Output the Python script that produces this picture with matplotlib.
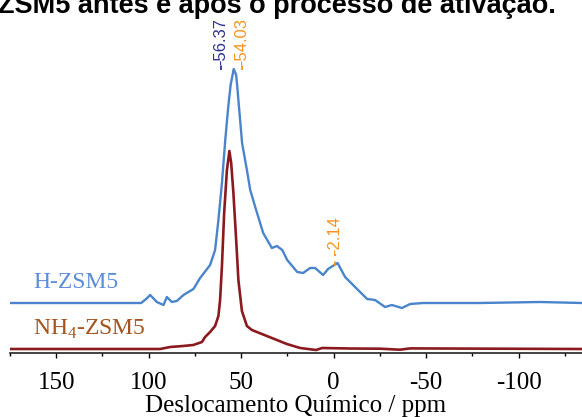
import numpy as np
import matplotlib
matplotlib.use("Agg")
import matplotlib.pyplot as plt

plt.rcParams['axes.unicode_minus'] = False
plt.rcParams['mathtext.fontset'] = 'custom'
plt.rcParams['mathtext.rm'] = 'Liberation Serif'

# ---- dados (ppm, intensidade a.u.) ----
h_ppm = [175.9, 104.1, 101.4, 99.2, 95.6, 92.0, 90.2, 87.5, 84.8, 81.2, 75.8, 72.2,
         66.8, 64.1, 62.3, 60.4, 58.6, 57.0, 55.7, 54.03, 52.7, 52.2, 49.5, 46.9,
         45.1, 42.4, 41.4, 38.1, 33.4, 30.7, 27.8, 25.1, 19.7, 16.5, 12.7, 10.0,
         5.7, 3.0, -2.14, -6.2, -11.6, -18.1, -22.4, -27.8, -31.5, -36.9, -41.4,
         -48.4, -79.2, -111.6, -134.3]
h_int = [0, 0, 4, 8, 1, -2, 6, 1, 2, 8, 14, 25,
         38, 53, 83, 120, 163, 196, 218, 234, 228, 218, 160, 133,
         113, 96, 90, 70, 55, 57, 53, 43, 31, 30, 35, 35,
         28, 34, 40, 26, 16, 4, 3, -4, -2, -5, -1,
         0, 0, 1, 0]

nh4_ppm = [175.9, 93.8, 88.4, 81.4, 75.9, 71.2, 69.5, 66.8, 64.1, 62.3, 61.4, 60.4,
           59.2, 57.7, 56.37, 55.4, 54.2, 52.7, 51.5, 49.6, 46.9, 44.2, 36.1, 25.3,
           18.1, 9.5, 6.2, -8.9, -25.1, -35.9, -41.4, -134.3]
nh4_int = [0, 0, 2, 3, 4, 7, 12, 17, 23, 33, 49, 83,
           136, 179, 198, 186, 156, 109, 69, 38, 23, 19, 13, 5,
           1, -1, 1, 0.5, 0.3, -0.7, 0.6, 0]

h_offset = 50
nh4_offset = 4

peaks = [(-56.37, 'navy'), (-54.03, 'orange'), (-2.14, 'orange')]

c_blue = '#4a84cc'
c_red = '#8b1a1f'
c_navy = '#2e3192'
c_orange = '#f7931e'

fig = plt.figure(figsize=(5.82, 4.17), dpi=100)
ax = fig.add_axes([10/582, (417-353)/417, 572/582, 333/417])

h_y = np.array(h_int) + h_offset
n_y = np.array(nh4_int) + nh4_offset
ax.plot(h_ppm, h_y, color=c_blue, lw=1.7)
ax.plot(nh4_ppm, n_y, color=c_red, lw=1.9)

ax.set_xlim(174.9, -134.3)
ax.set_ylim(0, 333)

# anotações dos picos
txt_pos = {-56.37: 61.0, -54.03: 49.6, -2.14: -0.8}
for val, col in peaks:
    c = c_navy if col == 'navy' else c_orange
    xt = txt_pos[val]
    if val == -2.14:
        ytop = np.interp(-val, h_ppm[::-1], h_y[::-1])
        ax.plot([xt, xt], [ytop + 2, ytop + 14], color=c, lw=1.3,
                ls=(0, (2.5, 3)))
        ax.text(xt, ytop + 14, '%.2f' % val, rotation=90, color=c,
                ha='center', va='bottom', fontsize=12, family='Liberation Sans')
    else:
        ax.plot([xt, xt], [283, 288], color=c, lw=1.3, ls=(0, (2.5, 3)))
        ax.text(xt, 288, '%.2f' % val, rotation=90, color=c,
                ha='center', va='bottom', fontsize=12, family='Liberation Sans')

ax.text(162.4, 65, 'H-ZSM5', color='#5b8ed6', fontsize=17,
        family='Liberation Serif', va='baseline', ha='left')
ax.text(162.4, 18, r'NH$_\mathrm{4}$-ZSM5', color='#a4541e', fontsize=17,
        family='Liberation Serif', va='baseline', ha='left')

for s in ['top', 'left', 'right']:
    ax.spines[s].set_visible(False)
ax.spines['bottom'].set_linewidth(1.2)
ax.spines['bottom'].set_color('#222222')
ax.set_yticks([])
ax.set_xticks([150, 100, 50, 0, -50, -100])
ax.set_xticks(np.arange(175, -135, -25), minor=True)
ax.tick_params(axis='x', which='major', direction='out', length=3.5, width=1,
               labelsize=18, pad=10)
ax.tick_params(axis='x', which='minor', direction='out', length=2, width=1)
for lab in ax.get_xticklabels():
    lab.set_family('Liberation Serif')
ax.set_xlabel('Deslocamento Químico / ppm', family='Liberation Serif',
              fontsize=18, labelpad=1)

fig.text(-2/582, 1 - 13/417, 'ZSM5 antes e após o processo de ativação.',
         fontsize=19.5, fontweight='bold', family='Liberation Sans',
         ha='left', va='baseline')

fig.savefig('out.png', dpi=100)
